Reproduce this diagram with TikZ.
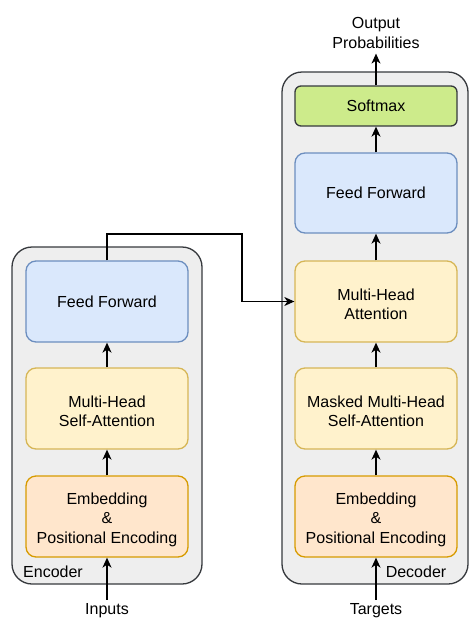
\documentclass[tikz,border=0pt]{standalone}
\usepackage{fontspec}
\setmainfont{Liberation Sans}
\usetikzlibrary{arrows.meta}
\definecolor{contfill}{HTML}{EEEEEE}
\definecolor{contdraw}{HTML}{36393D}
\definecolor{bluefill}{HTML}{DAE8FC}
\definecolor{bluedraw}{HTML}{6C8EBF}
\definecolor{yelfill}{HTML}{FFF2CC}
\definecolor{yeldraw}{HTML}{D6B656}
\definecolor{orfill}{HTML}{FFE6CC}
\definecolor{ordraw}{HTML}{D79B00}
\definecolor{grfill}{HTML}{CDEB8B}
\tikzset{
  container/.style={draw=contdraw, fill=contfill, line width=1.3pt, rounded corners=20pt},
  blk/.style={rounded corners=10pt, line width=1.3pt, minimum width=162pt, minimum height=81pt, inner sep=0pt, align=center, font=\fontsize{16}{19.5}\selectfont},
  ffbox/.style={blk, draw=bluedraw, fill=bluefill},
  attbox/.style={blk, draw=yeldraw, fill=yelfill},
  embbox/.style={blk, draw=ordraw, fill=orfill},
  smbox/.style={blk, draw=contdraw, fill=grfill, minimum height=40pt, rounded corners=6pt},
  txt/.style={align=center, inner sep=0pt, font=\fontsize{16}{19.5}\selectfont, yshift=-3pt},
  lbl/.style={align=center, inner sep=3pt, font=\fontsize{16}{19.5}\selectfont},
  arr/.style={-{Stealth[length=10pt,width=9pt,inset=3pt]}, line width=1.3pt, black},
}
\begin{document}
\begin{tikzpicture}[x=1pt,y=-1pt]
\useasboundingbox (0,0) rectangle (469,619);
% containers
\draw[container] (12,247) rectangle (202,584);
\draw[container] (282,72) rectangle (468,584);
% encoder
\node[ffbox] (encff) at (107,301.5) {Feed Forward};
\node[attbox, label={[txt]center:{Multi-Head\\Self-Attention}}] (encatt) at (107,408.5) {};
\node[embbox, label={[txt]center:{Embedding\\\&\\Positional Encoding}}] (encemb) at (107,516.5) {};
\node[lbl, inner sep=4pt] (inputs) at (107,611) {Inputs};
\node[lbl, inner sep=0pt] (enclbl) at (53,571.5) {Encoder};
% decoder
\node[smbox] (softmax) at (376,106) {Softmax};
\node[ffbox, minimum height=80pt] (decff) at (376,193) {Feed Forward};
\node[attbox, label={[txt]center:{Multi-Head\\Attention}}] (decmha) at (376,301.5) {};
\node[attbox, label={[txt]center:{Masked Multi-Head\\Self-Attention}}] (decmask) at (376,408.5) {};
\node[embbox, label={[txt]center:{Embedding\\\&\\Positional Encoding}}] (decemb) at (376,516.5) {};
\node[lbl, inner sep=4pt] (targets) at (376,611) {Targets};
\node[lbl, inner sep=0pt] (declbl) at (416,571.5) {Decoder};
\node[lbl, inner sep=5pt] (outp) at (376,33) {Output\\Probabilities};
% arrows
\draw[arr] (inputs.north) -- (encemb.south);
\draw[arr] (encemb.north) -- (encatt.south);
\draw[arr] (encatt.north) -- (encff.south);
\draw[arr] (targets.north) -- (decemb.south);
\draw[arr] (decemb.north) -- (decmask.south);
\draw[arr] (decmask.north) -- (decmha.south);
\draw[arr] (decmha.north) -- (decff.south);
\draw[arr] (decff.north) -- (softmax.south);
\draw[arr] (softmax.north) -- (outp.south);
\coordinate (j1) at (242,234);
\draw[arr, line width=1.1pt] (encff.north) |- (j1) |- (decmha.west);
\end{tikzpicture}
\end{document}
